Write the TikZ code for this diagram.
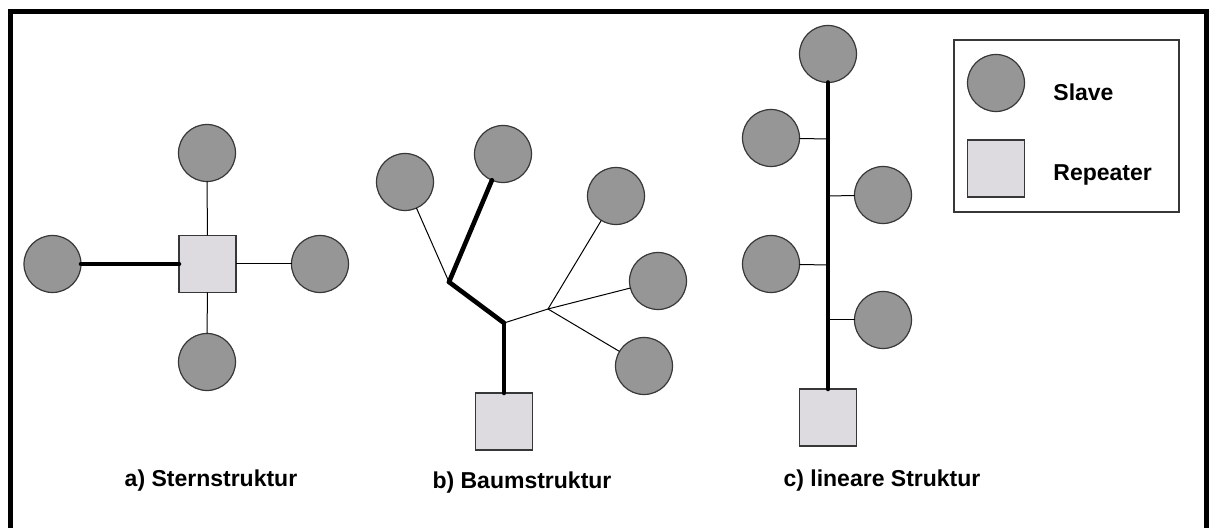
\documentclass[tikz,border=0pt]{standalone}
\usepackage{fontspec}
\setmainfont{Liberation Sans}
\usepackage{tikz}
\usepackage{tkz-berge}
\usetikzlibrary{shapes}
\definecolor{slavegray}{RGB}{150,150,150}
\definecolor{repgray}{RGB}{221,219,224}
\definecolor{rimgray}{RGB}{55,55,55}
\newcommand{\thinw}{0.5pt}
\newcommand{\thickw}{2.3pt}
\newcommand{\nodesz}{28.5pt}

\begin{document}
\begin{tikzpicture}[x=0.5pt,y=-0.5pt,
            repeater/.style = {VertexStyle/.append style = {shape = rectangle, fill = repgray, minimum size = \nodesz}},
            trunk/.style = {EdgeStyle/.append style = {line width = \thickw, line cap = round}}]
            \useasboundingbox (0,0) rectangle (1211,528);
            \GraphInit[unit=1,vstyle=Normal]
            \SetVertexNormal[Shape=circle, FillColor=slavegray, LineColor=rimgray, LineWidth=0.6pt, MinSize=\nodesz]
            \tikzset{VertexStyle/.append style = {inner sep = 0pt, outer sep = 0pt}}
            \tikzset{EdgeStyle/.style = {draw, line width = \thinw, color = black}}
            \tikzset{legtext/.style = {inner sep = 0pt, font = \bfseries\fontsize{11.5}{14}\selectfont}}
            \SetVertexNoLabel
            % frame
            \draw[line width=2.5pt] (10,528) -- (10,12) -- (1206,12) -- (1206,528);
            % a) star
            \begin{scope}[repeater]
                \Vertex[x=207.5,y=264]{ar}
                \Vertex[x=504,y=421.5]{br}
                \Vertex[x=828,y=417.5]{cr}
                \Vertex[x=996,y=168.5]{lrp}
            \end{scope}
            \Vertex[x=207,y=153]{an}
            \Vertex[x=52.5,y=264]{aw}
            \Vertex[x=320,y=264]{ae}
            \Vertex[x=207,y=362]{as}
            \begin{scope}[trunk]
                \Edge(aw)(ar)
            \end{scope}
            \Edge(an)(ar)
            \Edge(ae)(ar)
            \Edge(as)(ar)
            % b) tree
            \Vertex[x=405,y=182]{b1}
            \Vertex[x=503,y=154]{b2}
            \Vertex[x=616,y=196]{b3}
            \Vertex[x=658,y=281]{b4}
            \Vertex[x=644,y=366]{b5}
            \coordinate (bj1) at (449,282);
            \coordinate (bj2) at (504,323);
            \coordinate (bj3) at (548,309);
            \begin{scope}[trunk]
                \Edge(br)(bj2)
                \Edge(bj2)(bj1)
                \Edge(bj1)(b2)
            \end{scope}
            \Edge(bj1)(b1)
            \Edge(bj2)(bj3)
            \Edge(bj3)(b3)
            \Edge(bj3)(b4)
            \Edge(bj3)(b5)
            % c) linear
            \Vertex[x=828,y=54]{c0}
            \Vertex[x=771,y=138]{c1}
            \Vertex[x=883,y=195]{c2}
            \Vertex[x=771,y=264]{c3}
            \Vertex[x=883,y=320]{c4}
            \coordinate (ck1) at (828,139);
            \coordinate (ck2) at (828,196);
            \coordinate (ck3) at (828,265);
            \coordinate (ck4) at (828,320);
            \begin{scope}[trunk]
                \Edge(c0)(cr)
            \end{scope}
            \Edge(c1)(ck1)
            \Edge(c2)(ck2)
            \Edge(c3)(ck3)
            \Edge(c4)(ck4)
            % legend
            \draw[rimgray, line width=0.6pt] (954,40) rectangle (1179,212);
            \Vertex[x=996,y=83]{lsl}
            \node[legtext, anchor=west] (tsl) at (1053,92) {Slave};
            \node[legtext, anchor=west] (trp) at (1053,175) {Repeater};
            % captions
            \node[legtext] (ta) at (211,481) {a) Sternstruktur};
            \node[legtext] (tb) at (522,483) {b) Baumstruktur};
            \node[legtext] (tc) at (882,481) {c) lineare Struktur};
\end{tikzpicture}
\end{document}
